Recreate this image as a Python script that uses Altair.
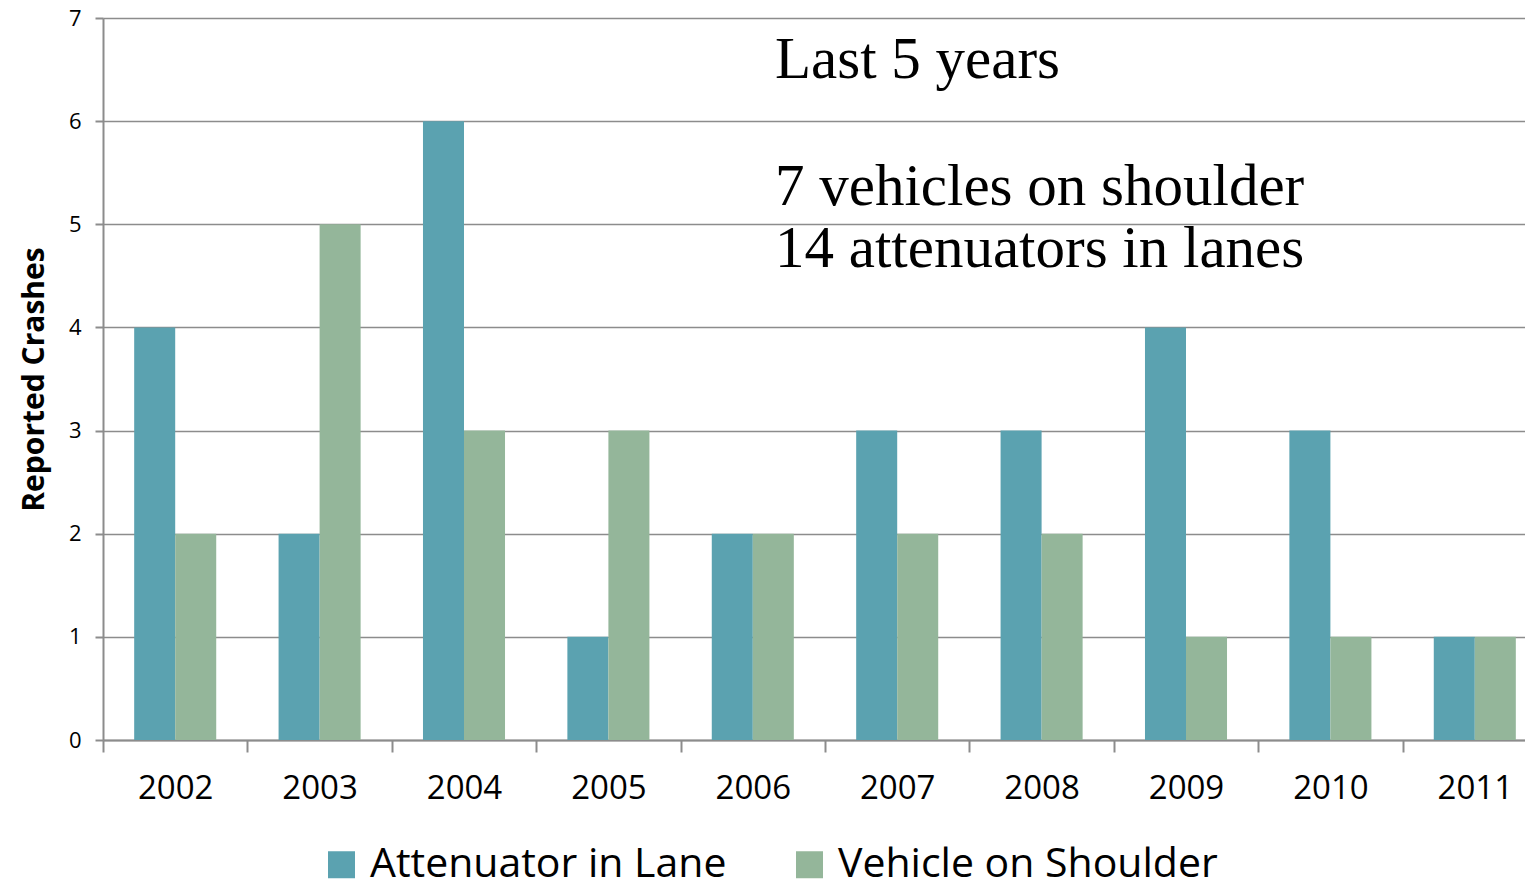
import altair as alt
import pandas as pd

years = ["2002", "2003", "2004", "2005", "2006", "2007", "2008", "2009", "2010", "2011"]
attenuator = [4, 2, 6, 1, 2, 3, 3, 4, 3, 1]
vehicle = [2, 5, 3, 3, 2, 2, 2, 1, 1, 1]
series = ["Attenuator in Lane", "Vehicle on Shoulder"]
colors = ["#5BA2B0", "#94B69A"]

notes = ["Last 5 years", "7 vehicles on shoulder", "14 attenuators in lanes"]
note_y = [6.42, 5.19, 4.59]

rows = []
for i, y in enumerate(years):
    rows.append({"year": y, "series": series[0], "crashes": attenuator[i]})
    rows.append({"year": y, "series": series[1], "crashes": vehicle[i]})
df = pd.DataFrame(rows)
notes_df = pd.DataFrame({"text": notes, "y": note_y})

W, H = 1422, 722
XRANGE = 1444

bars = alt.Chart(df).mark_bar(stroke=None).encode(
    x=alt.X("year:N", sort=years, title=None,
            scale=alt.Scale(paddingInner=0, paddingOuter=0, range=[0, XRANGE]),
            axis=alt.Axis(labelAngle=0, tickBand="extent", tickSize=12,
                          labelPadding=20, labelFont="Open Sans", labelFontSize=33,
                          labelColor="#000000", domainColor="#8c8c8c", tickColor="#8c8c8c",
                          domainWidth=2, tickWidth=2, grid=False)),
    xOffset=alt.XOffset("series:N", sort=series,
                        scale=alt.Scale(paddingInner=0, paddingOuter=0.76)),
    y=alt.Y("crashes:Q", title="Reported Crashes",
            scale=alt.Scale(domain=[0, 7], nice=False),
            axis=alt.Axis(values=list(range(8)), format="d", tickSize=8, labelPadding=14,
                          labelFont="Open Sans", labelFontSize=22, labelColor="#000000",
                          titleFont="Open Sans", titleFontSize=30, titleFontWeight="bold",
                          titleColor="#000000", titlePadding=19,
                          domainColor="#8c8c8c", tickColor="#8c8c8c", gridColor="#8c8c8c",
                          domainWidth=2, tickWidth=2, gridWidth=1.5)),
    color=alt.Color("series:N", sort=series,
                    scale=alt.Scale(domain=series, range=colors),
                    legend=alt.Legend(title=None, orient="none", direction="horizontal",
                                      legendX=218, legendY=826,
                                      labelFont="Open Sans", labelFontSize=41,
                                      labelColor="#000000", symbolType="square",
                                      symbolSize=729, symbolStrokeWidth=0,
                                      labelOffset=8, columnPadding=62,
                                      labelLimit=600)),
)

text = alt.Chart(notes_df).mark_text(
    font="Liberation Serif", fontSize=59, align="left", baseline="alphabetic",
    color="#000000"
).encode(
    x=alt.value(672),
    y=alt.Y("y:Q", scale=alt.Scale(domain=[0, 7], nice=False)),
    text="text:N",
)

chart = alt.layer(bars, text).properties(
    width=W, height=H,
    autosize=alt.AutoSizeParams(type="none"),
    padding={"left": 95, "top": 10, "right": 0, "bottom": 142},
).configure_view(stroke=None).configure(background="#ffffff")

chart.save("out.html", embed_options={"renderer": "svg", "actions": False})
